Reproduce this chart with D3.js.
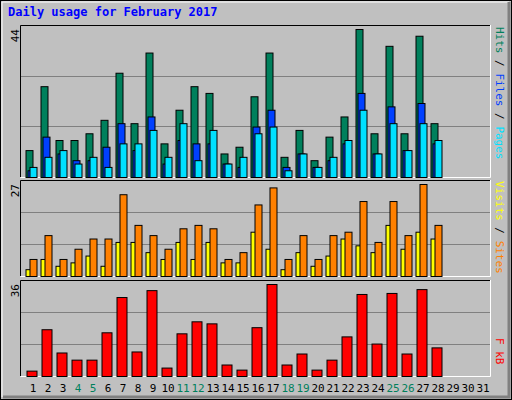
<!DOCTYPE html>
<html><head><meta charset="utf-8">
<script src="https://cdn.jsdelivr.net/npm/d3@7"></script>
<style>body{margin:0;background:#fff}</style>
</head><body>
<div id="chart"></div>
<script>
// values
const days = d3.range(1, 32);
const weekend = [4, 5, 11, 12, 18, 19, 25, 26];
const hits  = [8,27,11,11,13,17,31,16,37,10,20,27,25,7,9,24,37,6,14,5,12,18,44,13,39,13,42,16];
const files = [2,12,7,5,5,9,16,8,18,4,11,10,10,4,3,15,20,3,7,3,5,10,25,7,21,8,22,10];
const pages = [3,6,8,4,6,3,10,10,14,6,16,5,14,4,6,13,15,2,7,3,6,11,20,7,16,8,16,11];
const sites = [2,5,3,4,6,3,10,10,7,5,10,5,10,4,4,13,8,2,7,3,6,11,9,7,15,8,13,11];
const visits = [5,12,5,8,11,11,24,15,12,8,14,15,14,5,7,21,26,5,12,5,12,13,22,10,22,12,27,15];
const kbytes = [2.1,18.3,9.2,6.4,6.4,17.1,30.9,9.6,33.6,3.3,16.7,21.4,20.6,4.5,2.5,19.1,36,4.5,8.8,2.5,6.4,15.5,32.1,12.7,32.5,8.8,34,11.2];

const width = 512, height = 400;
const svg = d3.select("#chart").append("svg")
  .attr("width", width).attr("height", height)
  .style("font-family", "'DejaVu Sans Mono', monospace");

// outer frame
svg.append("rect").attr("x", 0).attr("y", 0).attr("width", width).attr("height", height).attr("fill", "#000");
svg.append("rect").attr("x", 1).attr("y", 1).attr("width", width - 2).attr("height", height - 2).attr("fill", "#c0c0c0");
svg.append("path").attr("d", "M2,397V2H509").attr("stroke", "#fff").attr("fill", "none");
svg.append("path").attr("d", "M3,397H509V2").attr("stroke", "#808080").attr("stroke-width", 3).attr("fill", "none");

svg.append("text").attr("x", 8).attr("y", 16).text("Daily usage for February 2017")
  .attr("fill", "#0000ff").attr("font-weight", "bold").attr("font-size", 12);

const x = d3.scaleBand().domain(days).range([25.5, 490.5]);

const panels = [
  {top: 25, bottom: 177, max: 44, maxY: 29},
  {top: 180, bottom: 276, max: 27, maxY: 184},
  {top: 280, bottom: 376, max: 36, maxY: 284}
];

panels.forEach(p => {
  svg.append("rect").attr("x", 20).attr("y", p.top).attr("width", 471).attr("height", p.bottom - p.top)
    .attr("fill", "#c0c0c0");
  const h = (p.bottom - p.top) / 3;
  [1, 2].forEach(i => svg.append("line").attr("x1", 21).attr("x2", 490)
    .attr("y1", Math.round(p.top + h * i) + 0.5).attr("y2", Math.round(p.top + h * i) + 0.5)
    .attr("stroke", "#808080"));
  svg.append("path").attr("d", `M20.5,${p.bottom}V${p.top + 0.5}H490.5`).attr("stroke", "#000").attr("fill", "none");
  svg.append("path").attr("d", `M20.5,${p.bottom + 0.5}H490.5V${p.top}`).attr("stroke", "#fff").attr("fill", "none");
  p.y = d3.scaleLinear().domain([0, p.max]).range([p.bottom, p.maxY]);
  svg.append("text").attr("transform", `translate(19,${p.top + 4}) rotate(-90)`)
    .attr("text-anchor", "end").attr("font-size", 11).text(p.max);
});

function bars(data, p, dx, w, color) {
  svg.append("g").selectAll("rect").data(data).join("rect")
    .attr("x", (d, i) => x(i + 1) + dx + 0.5)
    .attr("y", d => p.y(d) + 0.5)
    .attr("width", w)
    .attr("height", d => p.bottom - p.y(d))
    .attr("fill", color).attr("stroke", "#000");
}
bars(hits, panels[0], 0, 7, "#00805c");
bars(files, panels[0], 2, 7, "#0040ff");
bars(pages, panels[0], 4, 7, "#00e0ff");
bars(sites, panels[1], 0, 7, "#ffff00");
bars(visits, panels[1], 4, 7, "#ff8000");
bars(kbytes, panels[2], 1, 10, "#ff0000");

// day labels
svg.append("g").selectAll("text").data(days).join("text")
  .attr("x", d => x(d) + x.bandwidth() / 2).attr("y", 392)
  .attr("text-anchor", "middle").attr("font-size", 11)
  .attr("fill", d => weekend.includes(d) ? "#00805c" : "#000")
  .text(d => d);

// right side legends
function legend(parts, yTop) {
  const t = svg.append("text").attr("transform", `translate(496,${yTop}) rotate(90)`).attr("font-size", 11);
  parts.forEach(([s, c]) => t.append("tspan").attr("fill", c).text(s));
}
legend([["Pages", "#00e0ff"], [" / ", "#000"], ["Files", "#0040ff"], [" / ", "#000"], ["Hits", "#00805c"]].reverse(), 27);
legend([["Visits", "#ffff00"], [" / ", "#000"], ["Sites", "#ff8000"]], 181);
legend([["F", "#ff0000"], [" ", "#000"], ["kB", "#ff0000"]], 338);
</script>
</body></html>
